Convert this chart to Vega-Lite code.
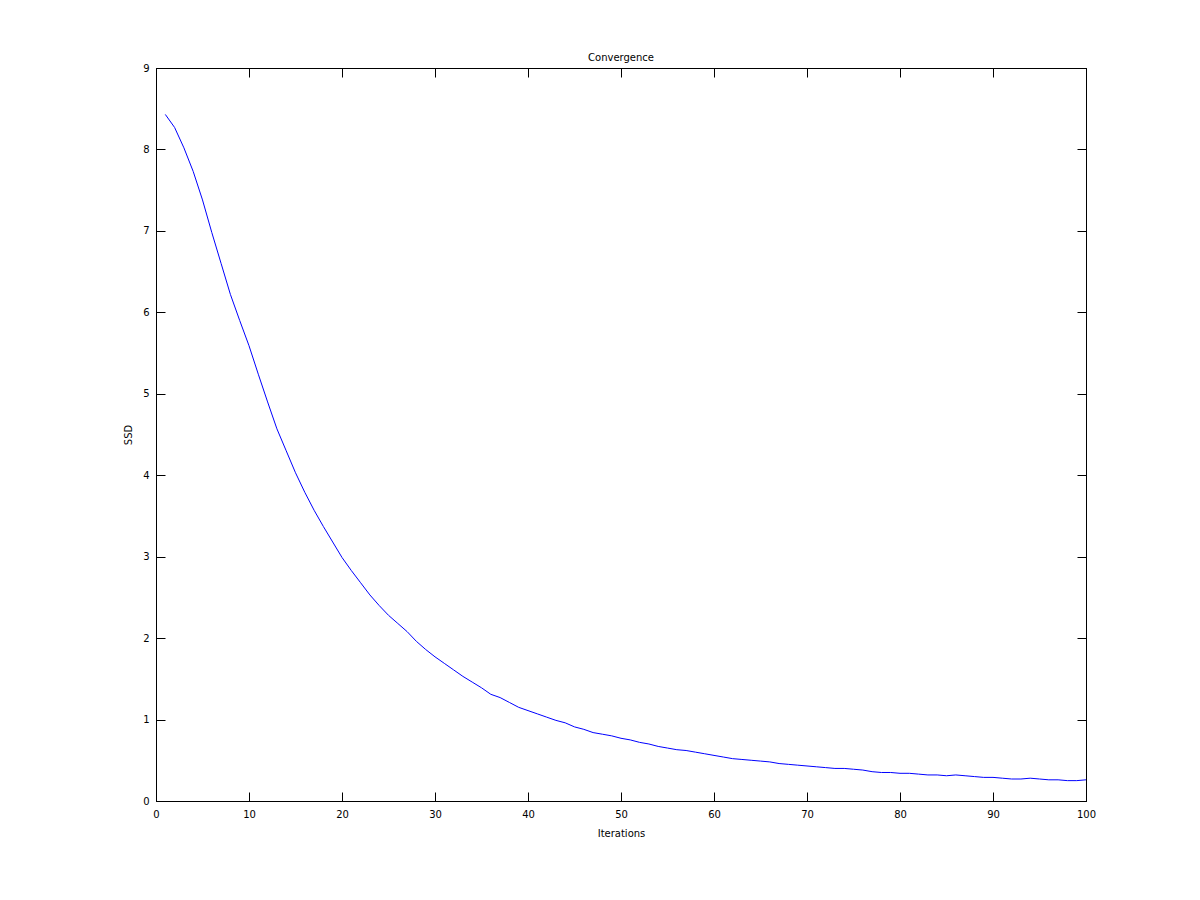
{
  "$schema": "https://vega.github.io/schema/vega-lite/v6.json",
  "width": 930,
  "height": 733,
  "autosize": "none",
  "padding": {"left": 156, "top": 68, "right": 114, "bottom": 99},
  "background": "white",
  "title": {"text": "Convergence", "font": "DejaVu Sans", "fontSize": 10, "fontWeight": "normal", "color": "black", "offset": 0, "anchor": "middle"},
  "config": {
    "view": {"stroke": "black", "strokeWidth": 1},
    "axis": {"grid": false, "domainColor": "black", "tickColor": "black", "labelColor": "black", "titleColor": "black", "labelFont": "DejaVu Sans", "titleFont": "DejaVu Sans", "labelFontSize": 10, "titleFontSize": 10, "titleFontWeight": "normal", "tickSize": -9, "tickWidth": 1, "domainWidth": 1}
  },
  "data": {"values": [
    {"iter": 1, "ssd": 8.43}, {"iter": 2, "ssd": 8.27}, {"iter": 3, "ssd": 8.02}, {"iter": 4, "ssd": 7.73}, {"iter": 5, "ssd": 7.38},
    {"iter": 6, "ssd": 6.98}, {"iter": 7, "ssd": 6.60}, {"iter": 8, "ssd": 6.22}, {"iter": 9, "ssd": 5.90}, {"iter": 10, "ssd": 5.59},
    {"iter": 11, "ssd": 5.24}, {"iter": 12, "ssd": 4.90}, {"iter": 13, "ssd": 4.57}, {"iter": 14, "ssd": 4.30}, {"iter": 15, "ssd": 4.03},
    {"iter": 16, "ssd": 3.79}, {"iter": 17, "ssd": 3.57}, {"iter": 18, "ssd": 3.37}, {"iter": 19, "ssd": 3.18}, {"iter": 20, "ssd": 2.99},
    {"iter": 21, "ssd": 2.83}, {"iter": 22, "ssd": 2.68}, {"iter": 23, "ssd": 2.53}, {"iter": 24, "ssd": 2.40}, {"iter": 25, "ssd": 2.28},
    {"iter": 26, "ssd": 2.18}, {"iter": 27, "ssd": 2.08}, {"iter": 28, "ssd": 1.96}, {"iter": 29, "ssd": 1.86}, {"iter": 30, "ssd": 1.77},
    {"iter": 31, "ssd": 1.69}, {"iter": 32, "ssd": 1.61}, {"iter": 33, "ssd": 1.53}, {"iter": 34, "ssd": 1.46}, {"iter": 35, "ssd": 1.39},
    {"iter": 36, "ssd": 1.31}, {"iter": 37, "ssd": 1.27}, {"iter": 38, "ssd": 1.21}, {"iter": 39, "ssd": 1.15}, {"iter": 40, "ssd": 1.11},
    {"iter": 41, "ssd": 1.07}, {"iter": 42, "ssd": 1.03}, {"iter": 43, "ssd": 0.99}, {"iter": 44, "ssd": 0.96}, {"iter": 45, "ssd": 0.91},
    {"iter": 46, "ssd": 0.88}, {"iter": 47, "ssd": 0.84}, {"iter": 48, "ssd": 0.82}, {"iter": 49, "ssd": 0.80}, {"iter": 50, "ssd": 0.77},
    {"iter": 51, "ssd": 0.75}, {"iter": 52, "ssd": 0.72}, {"iter": 53, "ssd": 0.70}, {"iter": 54, "ssd": 0.67}, {"iter": 55, "ssd": 0.65},
    {"iter": 56, "ssd": 0.63}, {"iter": 57, "ssd": 0.62}, {"iter": 58, "ssd": 0.60}, {"iter": 59, "ssd": 0.58}, {"iter": 60, "ssd": 0.56},
    {"iter": 61, "ssd": 0.54}, {"iter": 62, "ssd": 0.52}, {"iter": 63, "ssd": 0.51}, {"iter": 64, "ssd": 0.50}, {"iter": 65, "ssd": 0.49},
    {"iter": 66, "ssd": 0.48}, {"iter": 67, "ssd": 0.46}, {"iter": 68, "ssd": 0.45}, {"iter": 69, "ssd": 0.44}, {"iter": 70, "ssd": 0.43},
    {"iter": 71, "ssd": 0.42}, {"iter": 72, "ssd": 0.41}, {"iter": 73, "ssd": 0.40}, {"iter": 74, "ssd": 0.40}, {"iter": 75, "ssd": 0.39},
    {"iter": 76, "ssd": 0.38}, {"iter": 77, "ssd": 0.36}, {"iter": 78, "ssd": 0.35}, {"iter": 79, "ssd": 0.35}, {"iter": 80, "ssd": 0.34},
    {"iter": 81, "ssd": 0.34}, {"iter": 82, "ssd": 0.33}, {"iter": 83, "ssd": 0.32}, {"iter": 84, "ssd": 0.32}, {"iter": 85, "ssd": 0.31},
    {"iter": 86, "ssd": 0.32}, {"iter": 87, "ssd": 0.31}, {"iter": 88, "ssd": 0.30}, {"iter": 89, "ssd": 0.29}, {"iter": 90, "ssd": 0.29},
    {"iter": 91, "ssd": 0.28}, {"iter": 92, "ssd": 0.27}, {"iter": 93, "ssd": 0.27}, {"iter": 94, "ssd": 0.28}, {"iter": 95, "ssd": 0.27},
    {"iter": 96, "ssd": 0.26}, {"iter": 97, "ssd": 0.26}, {"iter": 98, "ssd": 0.25}, {"iter": 99, "ssd": 0.25}, {"iter": 100, "ssd": 0.26}
  ]},
  "layer": [
    {
      "mark": {"type": "line", "color": "#0000ff", "strokeWidth": 1},
      "encoding": {
        "x": {"field": "iter", "type": "quantitative", "title": "Iterations", "scale": {"domain": [0, 100], "nice": false},
              "axis": {"orient": "bottom", "values": [0,10,20,30,40,50,60,70,80,90,100], "labelPadding": 17, "titlePadding": 9, "labelFlush": false}},
        "y": {"field": "ssd", "type": "quantitative", "title": "SSD", "scale": {"domain": [0, 9], "nice": false, "zero": true},
              "axis": {"orient": "left", "values": [0,1,2,3,4,5,6,7,8,9], "labelPadding": 16, "titlePadding": 9, "labelFlush": false}}
      }
    },
    {
      "mark": {"type": "line", "opacity": 0},
      "encoding": {
        "x": {"field": "iter", "type": "quantitative", "scale": {"domain": [0, 100], "nice": false},
              "axis": {"orient": "top", "values": [0,10,20,30,40,50,60,70,80,90,100], "labels": false, "title": null}},
        "y": {"field": "ssd", "type": "quantitative", "scale": {"domain": [0, 9], "nice": false},
              "axis": {"orient": "right", "values": [0,1,2,3,4,5,6,7,8,9], "labels": false, "title": null}}
      }
    }
  ],
  "resolve": {"axis": {"x": "independent", "y": "independent"}}
}
